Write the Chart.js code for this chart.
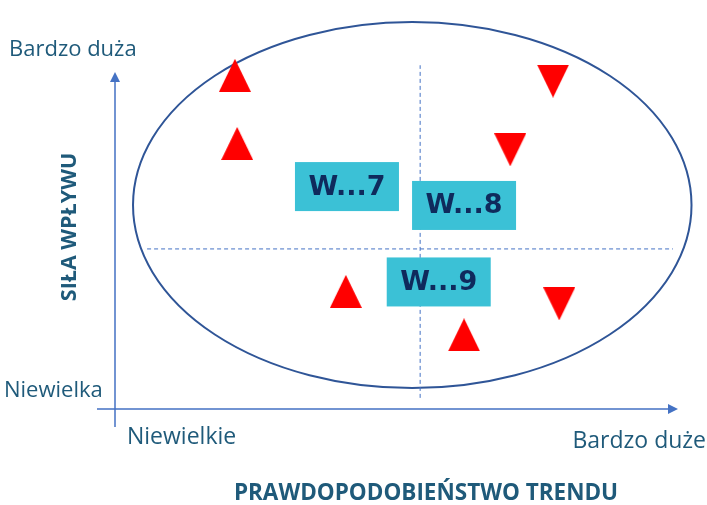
<!DOCTYPE html>
<html>
<head>
<meta charset="utf-8">
<script src="https://cdn.jsdelivr.net/npm/chart.js@4"></script>
<style>
  html, body { margin: 0; padding: 0; background: #fff; }
  #wrap { width: 707px; height: 505px; }
</style>
</head>
<body>
<div id="wrap"><canvas id="trendMatrix"></canvas></div>
<script>
// both axes run 0..100
const risingX = [21.3, 21.7, 41.0, 62.0]
const risingY = [99.0, 78.8, 34.9, 22.0]
const fallingX = [77.8, 70.2, 78.9]
const fallingY = [97.3, 76.9, 31.2]

const boxLabels = ['W...7', 'W...8', 'W...9']
const boxX = [41.2, 62.0, 57.5]
const boxY = [66.0, 60.4, 37.7]

const xTickLabels = ['Niewielkie', 'Bardzo duże']
const yTickLabels = ['Niewielka', 'Bardzo duża']
const xTitle = 'PRAWDOPODOBIEŃSTWO TRENDU'
const yTitle = 'SIŁA WPŁYWU'

const splitX = 54.2
const splitY = 47.5

const textColor = '#1F5A7A'
const axisColor = '#4472C4'

function triangleImage(down) {
  const c = document.createElement('canvas')
  c.width = 32
  c.height = 33
  const g = c.getContext('2d')
  g.fillStyle = '#FF0000'
  g.beginPath()
  if (down) {
    g.moveTo(0, 0); g.lineTo(32, 0); g.lineTo(16, 33)
  } else {
    g.moveTo(16, 0); g.lineTo(32, 33); g.lineTo(0, 33)
  }
  g.closePath()
  g.fill()
  return c
}

function toPoints(xs, ys) {
  return xs.map((x, i) => ({ x: x, y: ys[i] }))
}

const backdrop = {
  id: 'backdrop',
  beforeDatasetsDraw(chart) {
    const ctx = chart.ctx
    const xs = chart.scales.x, ys = chart.scales.y
    const a = chart.chartArea
    ctx.save()

    // ellipse
    const cx = xs.getPixelForValue(52.8), cy = ys.getPixelForValue(60.5)
    const rx = xs.getPixelForValue(52.8 + 49.6) - cx
    const ry = cy - ys.getPixelForValue(60.5 + 54.3)
    ctx.strokeStyle = '#2F5597'
    ctx.lineWidth = 2
    ctx.beginPath()
    ctx.ellipse(cx, cy, rx, ry, 0, 0, Math.PI * 2)
    ctx.stroke()

    // axes with arrows
    ctx.strokeStyle = axisColor
    ctx.fillStyle = axisColor
    ctx.lineWidth = 1.5
    ctx.beginPath()
    ctx.moveTo(a.left - 18, a.bottom)
    ctx.lineTo(a.right - 9, a.bottom)
    ctx.moveTo(a.left, a.bottom + 18)
    ctx.lineTo(a.left, a.top + 9)
    ctx.stroke()
    ctx.beginPath()
    ctx.moveTo(a.right, a.bottom)
    ctx.lineTo(a.right - 10, a.bottom - 5)
    ctx.lineTo(a.right - 10, a.bottom + 5)
    ctx.closePath()
    ctx.fill()
    ctx.beginPath()
    ctx.moveTo(a.left, a.top)
    ctx.lineTo(a.left - 5, a.top + 10)
    ctx.lineTo(a.left + 5, a.top + 10)
    ctx.closePath()
    ctx.fill()

    // labels
    ctx.fillStyle = textColor
    ctx.textBaseline = 'alphabetic'
    ctx.font = '22px "Open Sans"'
    ctx.textAlign = 'left'
    ctx.fillText(yTickLabels[1], 9, 56)
    ctx.fillText(yTickLabels[0], 4, 397)
    ctx.font = '23px "Open Sans"'
    ctx.fillText(xTickLabels[0], 127, 444)
    ctx.textAlign = 'right'
    ctx.fillText(xTickLabels[1], 706, 448)

    ctx.font = 'bold 22.5px "Open Sans"'
    ctx.textAlign = 'center'
    ctx.fillText(xTitle, 426, 500)
    ctx.save()
    ctx.translate(76, 227)
    ctx.rotate(-Math.PI / 2)
    ctx.font = 'bold 21.5px "Open Sans"'
    ctx.fillText(yTitle, 0, 0)
    ctx.restore()

    ctx.restore()
  },
  afterDatasetsDraw(chart) {
    const ctx = chart.ctx
    const xs = chart.scales.x, ys = chart.scales.y
    ctx.save()
    boxLabels.forEach((label, i) => {
      const px = xs.getPixelForValue(boxX[i])
      const py = ys.getPixelForValue(boxY[i])
      ctx.fillStyle = '#3BC1D6'
      ctx.fillRect(px - 52, py - 24.5, 104, 49)
      ctx.fillStyle = '#0F2A5C'
      ctx.font = 'bold 27px "DejaVu Sans"'
      ctx.textAlign = 'center'
      ctx.textBaseline = 'middle'
      ctx.fillText(label, px, py + 1)
    })
    ctx.restore()
  }
}

const dashed = {
  type: 'line',
  borderColor: axisColor,
  borderWidth: 1,
  borderDash: [4, 3],
  pointRadius: 0,
  fill: false,
  clip: false
}

new Chart(document.getElementById('trendMatrix'), {
  type: 'scatter',
  data: {
    datasets: [
      Object.assign({ data: [{ x: splitX, y: 3.3 }, { x: splitX, y: 102 }] }, dashed),
      Object.assign({ data: [{ x: 5.7, y: splitY }, { x: 99.1, y: splitY }] }, dashed),
      {
        label: 'rosnące',
        data: toPoints(risingX, risingY),
        pointStyle: triangleImage(false),
        pointRadius: 16,
        clip: false
      },
      {
        label: 'malejące',
        data: toPoints(fallingX, fallingY),
        pointStyle: triangleImage(true),
        pointRadius: 16,
        clip: false
      }
    ]
  },
  options: {
    responsive: true,
    maintainAspectRatio: false,
    animation: false,
    layout: { padding: { left: 115, right: 29, top: 72, bottom: 96 } },
    scales: {
      x: { type: 'linear', min: 0, max: 100, display: false },
      y: { type: 'linear', min: 0, max: 100, display: false }
    },
    plugins: {
      legend: { display: false },
      tooltip: { enabled: false }
    }
  },
  plugins: [backdrop]
});
</script>
</body>
</html>
